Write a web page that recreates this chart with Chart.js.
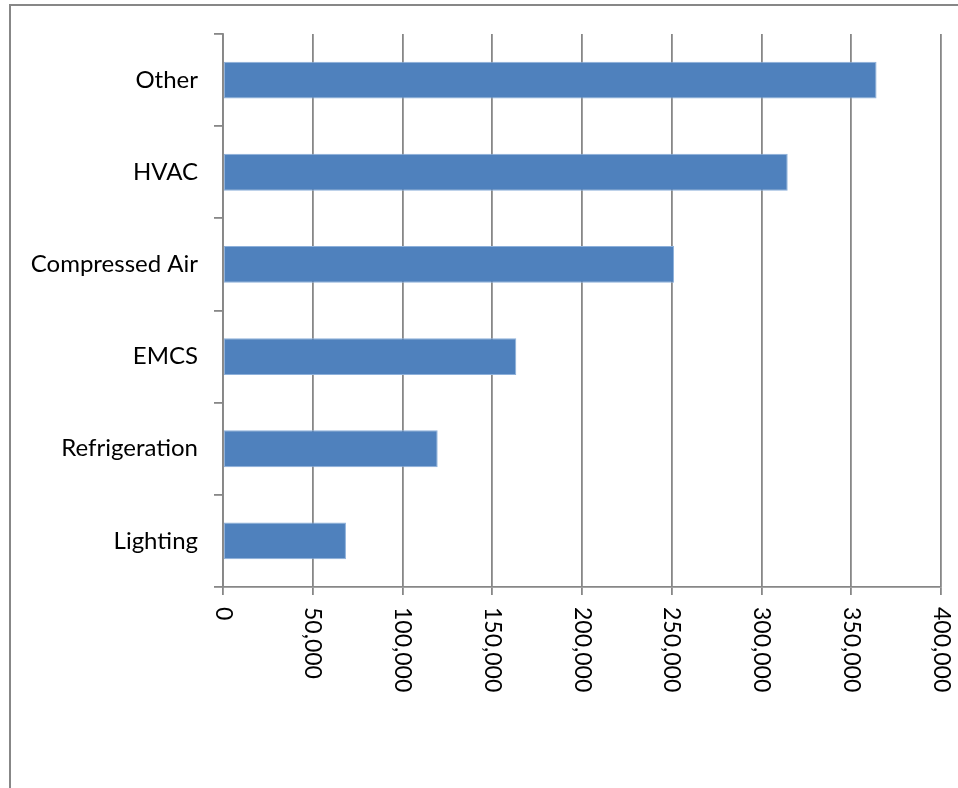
<!DOCTYPE html>
<html>
<head>
<meta charset="utf-8">
<script src="https://cdn.jsdelivr.net/npm/chart.js@4/dist/chart.umd.min.js"></script>
<style>
  html, body { margin: 0; padding: 0; background: #fff; }
  #wrap { position: absolute; left: 0; top: 0; width: 958px; height: 788px; }
</style>
</head>
<body>
<div id="wrap"><canvas id="c" width="958" height="788"></canvas></div>
<script>
const categories = ['Other', 'HVAC', 'Compressed Air', 'EMCS', 'Refrigeration', 'Lighting'];
const values = [364100, 314600, 251300, 163400, 119600, 68500];
const xTickValues = [0, 50000, 100000, 150000, 200000, 250000, 300000, 350000, 400000];

const FONT = 'Lato, "Open Sans", sans-serif';
const GRID = '#878787';

const frame = {
  id: 'frame',
  beforeDraw(chart) {
    const ctx = chart.ctx;
    ctx.save();
    ctx.strokeStyle = GRID;
    ctx.lineWidth = 2;
    ctx.beginPath();
    ctx.moveTo(10, 788);
    ctx.lineTo(10, 5);
    ctx.lineTo(958, 5);
    ctx.stroke();
    ctx.restore();
  }
};

const rotatedXLabels = {
  id: 'rotatedXLabels',
  afterDraw(chart) {
    const sx = chart.scales.x;
    const ctx = chart.ctx;
    ctx.save();
    ctx.fillStyle = '#000';
    ctx.font = '23px ' + FONT;
    ctx.textAlign = 'left';
    ctx.textBaseline = 'middle';
    xTickValues.forEach(v => {
      const px = sx.getPixelForValue(v);
      ctx.save();
      ctx.translate(px, sx.top + 20);
      ctx.rotate(Math.PI / 2);
      ctx.fillText(v.toLocaleString('en-US'), 0, 0);
      ctx.restore();
    });
    ctx.restore();
  }
};

new Chart(document.getElementById('c'), {
  type: 'bar',
  data: {
    labels: categories,
    datasets: [{
      data: values,
      backgroundColor: '#4F81BD',
      borderColor: '#8DB0DA',
      borderWidth: 1,
      borderSkipped: false,
      barPercentage: 0.4,
      categoryPercentage: 1.0
    }]
  },
  options: {
    indexAxis: 'y',
    responsive: false,
    animation: false,
    devicePixelRatio: 1,
    layout: { padding: { top: 34, right: 17, left: 0, bottom: 0 } },
    plugins: { legend: { display: false }, tooltip: { enabled: false } },
    scales: {
      x: {
        type: 'linear',
        min: 0,
        max: 400000,
        afterBuildTicks(scale) { scale.ticks = xTickValues.map(v => ({ value: v })); },
        ticks: { display: false },
        grid: { color: GRID, lineWidth: 1.8, drawTicks: true, tickLength: 8, tickColor: GRID },
        border: { display: true, color: GRID, width: 1.8 },
        afterFit(scale) { scale.height = 788 - 587; }
      },
      y: {
        type: 'category',
        ticks: { color: '#000', font: { family: FONT, size: 24 }, padding: 16 },
        grid: { drawOnChartArea: false, drawTicks: true, tickLength: 9, color: GRID, lineWidth: 1.8, offset: true },
        border: { display: true, color: GRID, width: 1.8 },
        afterFit(scale) { scale.width = 223; }
      }
    }
  },
  plugins: [frame, rotatedXLabels]
});
</script>
</body>
</html>
